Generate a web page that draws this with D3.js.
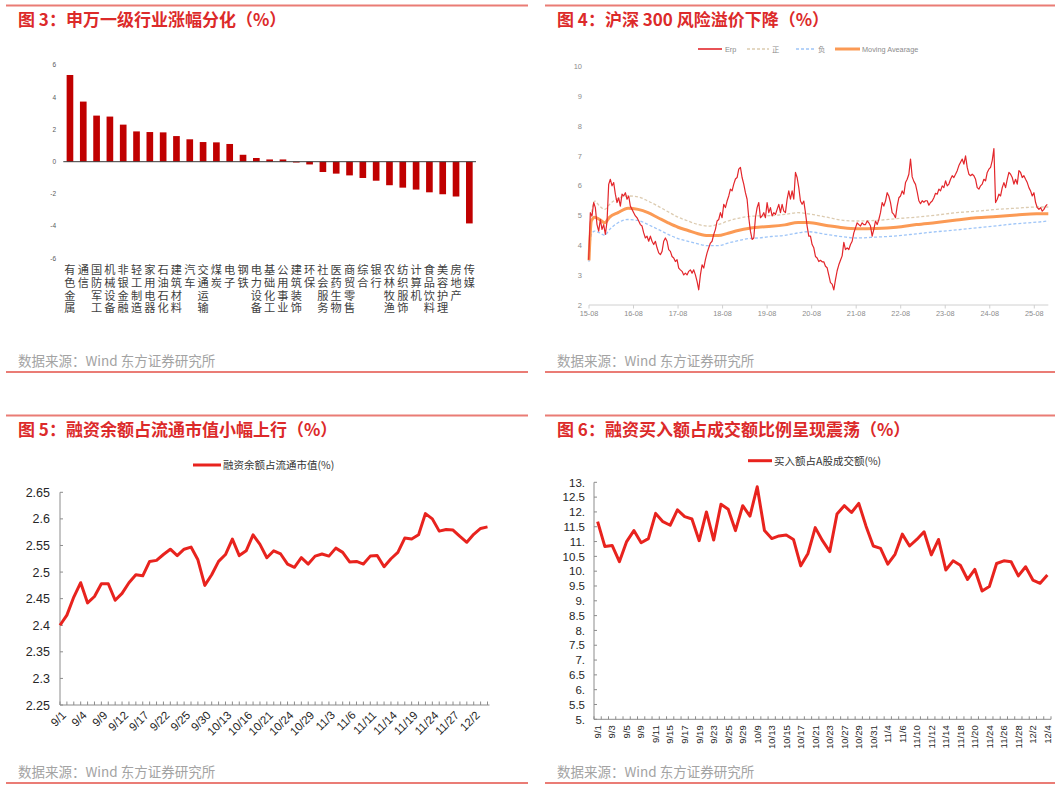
<!DOCTYPE html>
<html><head><meta charset="utf-8">
<script src="https://cdn.jsdelivr.net/npm/d3@7"></script>
<style>body{margin:0;background:#fff}svg{display:block}</style>
</head><body>
<svg id="c" width="1061" height="789"></svg>
<script>
// ---------------- DATA ----------------
// Fig 3: Shenwan level-1 industry change (%)
const industries = ["有色金属","通信","国防军工","机械设备","非银金融","轻工制造","家用电器","石油石化","建筑材料","汽车","交通运输","煤炭","电子","钢铁","电力设备","基础化工","公用事业","建筑装饰","环保","社会服务","医药生物","商贸零售","综合","银行","农林牧渔","纺织服饰","计算机","食品饮料","美容护理","房地产","传媒"];
const industryChange = [5.38,3.73,2.86,2.80,2.30,1.88,1.84,1.82,1.59,1.39,1.22,1.20,1.10,0.43,0.23,0.14,0.14,-0.05,-0.17,-0.64,-0.74,-0.85,-1.01,-1.18,-1.46,-1.61,-1.73,-1.90,-2.02,-2.16,-3.83];
const industryTicks = [6,4,2,0,-2,-4,-6];

// Fig 4: CSI 300 equity risk premium, sampled about every two weeks from Aug 2015
const erpStartYear = 2015.576;
const erpStepYears = 0.03745;
const erp = [
3.52,5.1,4.99,5.44,5.27,4.7,4.48,4.87,4.54,4.7,
4.37,4.8,6.05,6.22,6.0,6.11,5.72,5.44,5.6,5.32,
5.72,5.66,5.77,5.55,5.66,5.32,5.21,5.1,4.99,4.93,
4.82,4.7,4.65,4.42,4.25,4.31,4.14,4.31,4.14,4.03,
4.14,3.92,3.75,3.69,3.8,4.14,4.25,4.14,3.86,3.8,
3.63,3.58,3.46,3.52,3.24,3.18,3.13,3.01,3.07,3.01,
3.13,3.18,3.07,3.18,3.01,2.79,2.51,3.01,3.35,3.24,
3.52,3.75,3.92,4.08,4.14,4.37,4.54,4.82,4.87,5.1,
4.93,5.38,5.27,5.49,5.66,5.89,5.83,6.06,6.23,6.28,
6.56,6.62,6.28,6.06,5.77,5.55,4.93,4.48,4.2,4.25,
4.93,5.27,5.44,4.93,4.99,5.1,4.93,5.44,5.1,5.27,
4.99,5.1,5.04,5.21,5.38,5.1,5.38,5.15,5.1,5.55,
5.83,5.55,5.83,5.55,6.45,6.28,5.94,5.49,5.38,5.49,
5.1,4.65,4.31,4.31,4.03,3.92,3.63,3.58,3.46,3.5,
3.45,3.45,3.3,3.25,3.0,2.75,2.7,2.51,2.85,3.15,
3.35,3.5,3.65,4.1,3.86,3.92,3.86,4.03,4.14,4.42,
4.59,4.76,4.7,4.65,4.76,4.7,4.7,4.82,4.76,4.65,
4.31,4.54,4.82,4.7,4.87,5.1,5.44,5.32,5.49,5.77,
5.66,5.44,5.1,5.04,4.93,5.32,5.6,5.66,5.83,5.72,
6.11,6.22,6.39,6.9,6.3,6.15,6.05,5.8,5.5,5.4,
5.5,5.45,5.5,5.5,5.35,5.44,5.49,5.6,5.75,5.72,
5.89,5.83,6.0,5.94,6.17,6.0,6.06,6.22,6.34,6.28,
6.39,6.51,6.68,6.79,6.9,6.73,7.01,6.62,6.39,6.34,
6.39,6.34,6.22,5.94,5.89,6.0,6.06,6.22,6.17,6.45,
6.56,6.62,6.85,7.25,5.44,5.55,5.72,5.66,5.94,6.11,
5.94,6.22,6.45,6.39,6.28,6.06,6.22,6.06,6.51,6.45,
6.28,6.34,6.22,6.11,5.94,5.83,5.66,5.77,5.44,5.27,
5.21,5.27,5.15,5.21,5.32,5.38];
// smooth series (decimal year sample points)
const bandT = [2015.583,2015.636,2015.711,2015.823,2015.935,2016.048,2016.235,2016.46,2016.685,2016.909,2017.134,2017.359,2017.583,2017.808,2018.033,2018.258,2018.482,2018.707,2018.932,2019.157,2019.381,2019.681,2019.981,2020.28,2020.505,2020.917,2021.291,2021.591,2022.04,2022.49,2022.939,2023.389,2023.838,2024.288,2024.737,2025.186,2025.636,2025.898];
const movingAvg = [3.5,4.82,4.95,4.87,4.76,4.95,5.1,5.25,5.21,5.1,4.93,4.76,4.61,4.5,4.39,4.33,4.33,4.41,4.5,4.57,4.61,4.64,4.69,4.77,4.77,4.67,4.59,4.56,4.57,4.61,4.7,4.77,4.85,4.93,4.97,5.02,5.06,5.06];
const bandUpper = [3.6,5.0,5.49,5.32,5.21,5.38,5.58,5.66,5.63,5.49,5.32,5.13,4.95,4.82,4.7,4.65,4.7,4.82,4.91,4.97,4.99,5.0,5.04,5.1,5.06,4.95,4.84,4.82,4.84,4.9,4.95,5.02,5.1,5.15,5.21,5.25,5.29,5.29];
const bandLower = [3.45,4.37,4.48,4.42,4.34,4.54,4.76,4.87,4.84,4.7,4.54,4.37,4.23,4.14,4.05,3.99,3.99,4.08,4.16,4.23,4.25,4.3,4.34,4.42,4.46,4.37,4.29,4.25,4.28,4.32,4.39,4.46,4.52,4.59,4.66,4.73,4.78,4.82];
const erpYTicks = [2,3,4,5,6,7,8,9,10];
const erpXTickYears = [2015,2016,2017,2018,2019,2020,2021,2022,2023,2024,2025];

// Fig 5 & 6: trading days Sep 1 - Dec 4
const tradingDays = ["9/1","9/2","9/3","9/4","9/5","9/8","9/9","9/10","9/11","9/12","9/15","9/16","9/17","9/18","9/19","9/22","9/23","9/24","9/25","9/26","9/29","9/30","10/9","10/10","10/13","10/14","10/15","10/16","10/17","10/20","10/21","10/22","10/23","10/24","10/27","10/28","10/29","10/30","10/31","11/3","11/4","11/5","11/6","11/7","11/10","11/11","11/12","11/13","11/14","11/17","11/18","11/19","11/20","11/21","11/24","11/25","11/26","11/27","11/28","12/1","12/2","12/3","12/4"];
const marginRatio = [2.40,2.419,2.453,2.48,2.442,2.454,2.478,2.478,2.447,2.46,2.48,2.495,2.493,2.52,2.522,2.533,2.543,2.531,2.543,2.547,2.523,2.475,2.495,2.52,2.533,2.562,2.531,2.54,2.57,2.552,2.527,2.54,2.534,2.515,2.509,2.527,2.515,2.53,2.534,2.53,2.545,2.537,2.519,2.52,2.515,2.53,2.531,2.51,2.525,2.537,2.564,2.562,2.57,2.61,2.6,2.577,2.58,2.579,2.567,2.556,2.571,2.582,2.585];
const marginTicks = [2.25,2.3,2.35,2.4,2.45,2.5,2.55,2.6,2.65];
const marginTickLabels = ["2.25","2.3","2.35","2.4","2.45","2.5","2.55","2.6","2.65"];
const buyRatio = [11.67,10.83,10.87,10.32,11.0,11.37,10.96,11.1,11.95,11.67,11.55,12.07,11.84,11.76,11.03,12.0,11.05,12.26,12.09,11.37,12.21,11.86,12.85,11.37,11.1,11.19,11.22,11.07,10.18,10.6,11.47,11.03,10.66,11.93,12.21,11.98,12.29,11.52,10.85,10.77,10.24,10.57,11.25,10.85,11.07,11.33,10.55,11.07,10.04,10.35,10.2,9.72,10.06,9.33,9.48,10.26,10.35,10.32,9.84,10.15,9.7,9.59,9.87];
const buyTicks = [5,5.5,6,6.5,7,7.5,8,8.5,9,9.5,10,10.5,11,11.5,12,12.5,13];
const buyTickLabels = ["5.","5.5","6.","6.5","7.","7.5","8.","8.5","9.","9.5","10.","10.5","11.","11.5","12.","12.5","13."];

// ---------------- DRAW ----------------
const svg = d3.select("#c");
const CJK = "'Noto Sans CJK SC','Noto Sans',sans-serif";
const LAT = "'Liberation Sans',Arial,'Noto Sans CJK SC',sans-serif";
const TITLE_RED = "#dc2a2a";
const RULE = "#ea7c75";

function frame(x0, x1, yTop, yBot, tx, title) {
  svg.append("line").attr("x1",x0).attr("x2",x1).attr("y1",yTop).attr("y2",yTop).attr("stroke",RULE).attr("stroke-width",2);
  svg.append("text").attr("x",tx).attr("y",yTop+20.5).attr("font-family",CJK).attr("font-weight","bold")
     .attr("font-size",17).attr("fill",TITLE_RED).text(title);
  svg.append("text").attr("x",tx).attr("y",yBot-6.5).attr("font-family",CJK)
     .attr("font-size",13.5).attr("fill","#a3a3a3").text("数据来源：Wind 东方证券研究所");
  svg.append("line").attr("x1",x0).attr("x2",x1).attr("y1",yBot).attr("y2",yBot).attr("stroke",RULE).attr("stroke-width",2);
}
frame(6, 528, 5.5, 372, 18, "图 3：申万一级行业涨幅分化（%）");
frame(545, 1055, 5.5, 372, 557, "图 4：沪深 300 风险溢价下降（%）");
frame(6, 528, 415.5, 783, 18, "图 5：融资余额占流通市值小幅上行（%）");
frame(545, 1055, 415.5, 783, 557, "图 6：融资买入额占成交额比例呈现震荡（%）");

// ---- Panel 1: bars ----
(function(){
  const g = svg.append("g");
  const x = d3.scaleBand().domain(industries).range([63.3, 476]).paddingInner(0.5).paddingOuter(0.25);
  const y = d3.scaleLinear().domain([-6, 6]).range([258.4, 65]);
  g.selectAll("text.yt").data(industryTicks).join("text")
    .attr("x", 56).attr("y", d => y(d) + 2.3).attr("text-anchor","end")
    .attr("font-family",LAT).attr("font-size",6.5).attr("fill","#595959").text(d => d);
  g.selectAll("rect").data(industries).join("rect")
    .attr("x", d => x(d)).attr("width", x.bandwidth())
    .attr("y", (d,i) => y(Math.max(0, industryChange[i])))
    .attr("height", (d,i) => Math.abs(y(industryChange[i]) - y(0)))
    .attr("fill", "#c00000");
  g.append("line").attr("x1",63.3).attr("x2",476).attr("y1",y(0)).attr("y2",y(0)).attr("stroke","#3a3a3a").attr("stroke-width",1);
  // vertical (top-to-bottom) category labels
  g.selectAll("text.xl").data(industries).join("text")
    .attr("x", d => x(d) + x.bandwidth()/2).attr("y", 264.5)
    .attr("style", "writing-mode: vertical-rl; text-orientation: upright;")
    .attr("letter-spacing", 1.4)
    .attr("font-family",CJK).attr("font-size",11.2).attr("fill","#404040").text(d => d);
})();

// ---- Panel 2: ERP ----
(function(){
  const g = svg.append("g");
  const x = d3.scaleLinear().domain([2015.5833, 2025.898]).range([589, 1048.3]);
  const y = d3.scaleLinear().domain([2, 10]).range([305, 66.7]);
  g.selectAll("text.yt").data(erpYTicks).join("text")
    .attr("x", 582).attr("y", d => y(d) + 2.6).attr("text-anchor","end")
    .attr("font-family",LAT).attr("font-size",7.5).attr("fill","#8c8c8c").text(d => d);
  g.append("line").attr("x1",589).attr("x2",1048.3).attr("y1",y(2)).attr("y2",y(2)).attr("stroke","#d0d0d0");
  erpXTickYears.forEach(yr => {
    const px = x(yr + 7/12);
    g.append("line").attr("x1",px).attr("x2",px).attr("y1",y(2)).attr("y2",y(2)+3.5).attr("stroke","#d0d0d0");
    g.append("text").attr("x",px).attr("y",y(2)+10.5).attr("text-anchor","middle")
      .attr("font-family",LAT).attr("font-size",7.3).attr("fill","#8c8c8c")
      .text(String(yr).slice(2) + "-08");
  });
  const smooth = d3.line().x((d,i) => x(bandT[i])).y(d => y(d)).curve(d3.curveMonotoneX);
  g.append("path").attr("d", smooth(bandUpper)).attr("fill","none").attr("stroke","#dccbb0").attr("stroke-width",1.3).attr("stroke-dasharray","3,2");
  g.append("path").attr("d", smooth(bandLower)).attr("fill","none").attr("stroke","#9ec5f8").attr("stroke-width",1.3).attr("stroke-dasharray","3,2");
  g.append("path").attr("d", smooth(movingAvg)).attr("fill","none").attr("stroke","#fb9a55").attr("stroke-width",3);
  const erpLine = d3.line().x((d,i) => x(erpStartYear + i*erpStepYears)).y(d => y(d));
  g.append("path").attr("d", erpLine(erp)).attr("fill","none").attr("stroke","#e3262b").attr("stroke-width",1.2).attr("stroke-linejoin","round");
  // legend
  const ly = 49;
  const items = [
    {x1:698,x2:722,tx:725,label:"Erp",stroke:"#e3262b",w:1.6,dash:null},
    {x1:747,x2:769,tx:772,label:"正",stroke:"#dccbb0",w:1.3,dash:"3,2"},
    {x1:796,x2:816,tx:818,label:"负",stroke:"#9ec5f8",w:1.3,dash:"3,2"},
    {x1:835,x2:860,tx:862,label:"Moving Avearage",stroke:"#fb9a55",w:3,dash:null}
  ];
  items.forEach(it => {
    const l = g.append("line").attr("x1",it.x1).attr("x2",it.x2).attr("y1",ly).attr("y2",ly).attr("stroke",it.stroke).attr("stroke-width",it.w);
    if (it.dash) l.attr("stroke-dasharray",it.dash);
    g.append("text").attr("x",it.tx).attr("y",ly+2.6).attr("font-family",LAT).attr("font-size",7.3).attr("fill","#8c8c8c").text(it.label);
  });
})();

// ---- Panel 3: margin balance / float cap ----
(function(){
  const g = svg.append("g");
  const x = d3.scalePoint().domain(tradingDays).range([60, 487.5]);
  const y = d3.scaleLinear().domain([2.25, 2.65]).range([705, 492.3]);
  const AX = "#8c8c8c";
  g.append("line").attr("x1",60).attr("x2",60).attr("y1",y(2.65)).attr("y2",y(2.25)).attr("stroke",AX);
  g.append("line").attr("x1",60).attr("x2",489.5).attr("y1",y(2.25)).attr("y2",y(2.25)).attr("stroke",AX);
  marginTicks.forEach((t,i) => {
    g.append("line").attr("x1",60).attr("x2",63).attr("y1",y(t)).attr("y2",y(t)).attr("stroke",AX);
    g.append("text").attr("x",50).attr("y",y(t)+4.5).attr("text-anchor","end")
      .attr("font-family",LAT).attr("font-size",12.5).attr("fill","#262626").text(marginTickLabels[i]);
  });
  tradingDays.forEach((d,i) => {
    const px = x(d);
    g.append("line").attr("x1",px).attr("x2",px).attr("y1",y(2.25)).attr("y2",y(2.25)-3.5).attr("stroke",AX);
    if (i % 3 === 0) {
      g.append("text").attr("transform",`translate(${px+4},${y(2.25)+8}) rotate(-45)`)
        .attr("text-anchor","end").attr("dy","0.35em")
        .attr("font-family",LAT).attr("font-size",11.5).attr("fill","#262626").text(d);
    }
  });
  const line = d3.line().x((d,i) => x(tradingDays[i])).y(d => y(d));
  g.append("path").attr("d", line(marginRatio)).attr("fill","none").attr("stroke","#e8231e").attr("stroke-width",3).attr("stroke-linejoin","round");
  g.append("line").attr("x1",193).attr("x2",221).attr("y1",465).attr("y2",465).attr("stroke","#e8231e").attr("stroke-width",3);
  g.append("text").attr("x",223).attr("y",468.8).attr("font-family",CJK).attr("font-size",10.5).attr("fill","#333").text("融资余额占流通市值(%)");
})();

// ---- Panel 4: buy amount / A-share turnover ----
(function(){
  const g = svg.append("g");
  const x = d3.scaleBand().domain(tradingDays).range([594, 1051]);
  const y = d3.scaleLinear().domain([5, 13]).range([719.3, 482.3]);
  const AX = "#8c8c8c";
  g.append("line").attr("x1",594).attr("x2",594).attr("y1",y(13)).attr("y2",y(5)).attr("stroke",AX);
  g.append("line").attr("x1",594).attr("x2",1051).attr("y1",y(5)).attr("y2",y(5)).attr("stroke",AX);
  buyTicks.forEach((t,i) => {
    g.append("line").attr("x1",594).attr("x2",597).attr("y1",y(t)).attr("y2",y(t)).attr("stroke",AX);
    g.append("text").attr("x",585).attr("y",y(t)+4.2).attr("text-anchor","end")
      .attr("font-family",LAT).attr("font-size",11.5).attr("fill","#262626").text(buyTickLabels[i]);
  });
  tradingDays.forEach((d,i) => {
    const px = x(d);
    g.append("line").attr("x1",px).attr("x2",px).attr("y1",y(5)).attr("y2",y(5)-3).attr("stroke",AX);
    if (i % 2 === 0) {
      const cx = px + x.bandwidth()/2;
      g.append("text").attr("transform",`translate(${cx},${y(5)+6}) rotate(-90)`)
        .attr("text-anchor","end").attr("dy","0.35em")
        .attr("font-family",LAT).attr("font-size",9.5).attr("fill","#262626").text(d);
    }
  });
  g.append("line").attr("x1",1051).attr("x2",1051).attr("y1",y(5)).attr("y2",y(5)-3).attr("stroke",AX);
  const line = d3.line().x((d,i) => x(tradingDays[i]) + x.bandwidth()/2).y(d => y(d));
  g.append("path").attr("d", line(buyRatio)).attr("fill","none").attr("stroke","#e8231e").attr("stroke-width",3).attr("stroke-linejoin","round");
  g.append("line").attr("x1",748).attr("x2",772).attr("y1",460.7).attr("y2",460.7).attr("stroke","#e8231e").attr("stroke-width",3);
  g.append("text").attr("x",774).attr("y",464.5).attr("font-family",CJK).attr("font-size",10.5).attr("fill","#333").text("买入额占A股成交额(%)");
})();
</script>
</body></html>
